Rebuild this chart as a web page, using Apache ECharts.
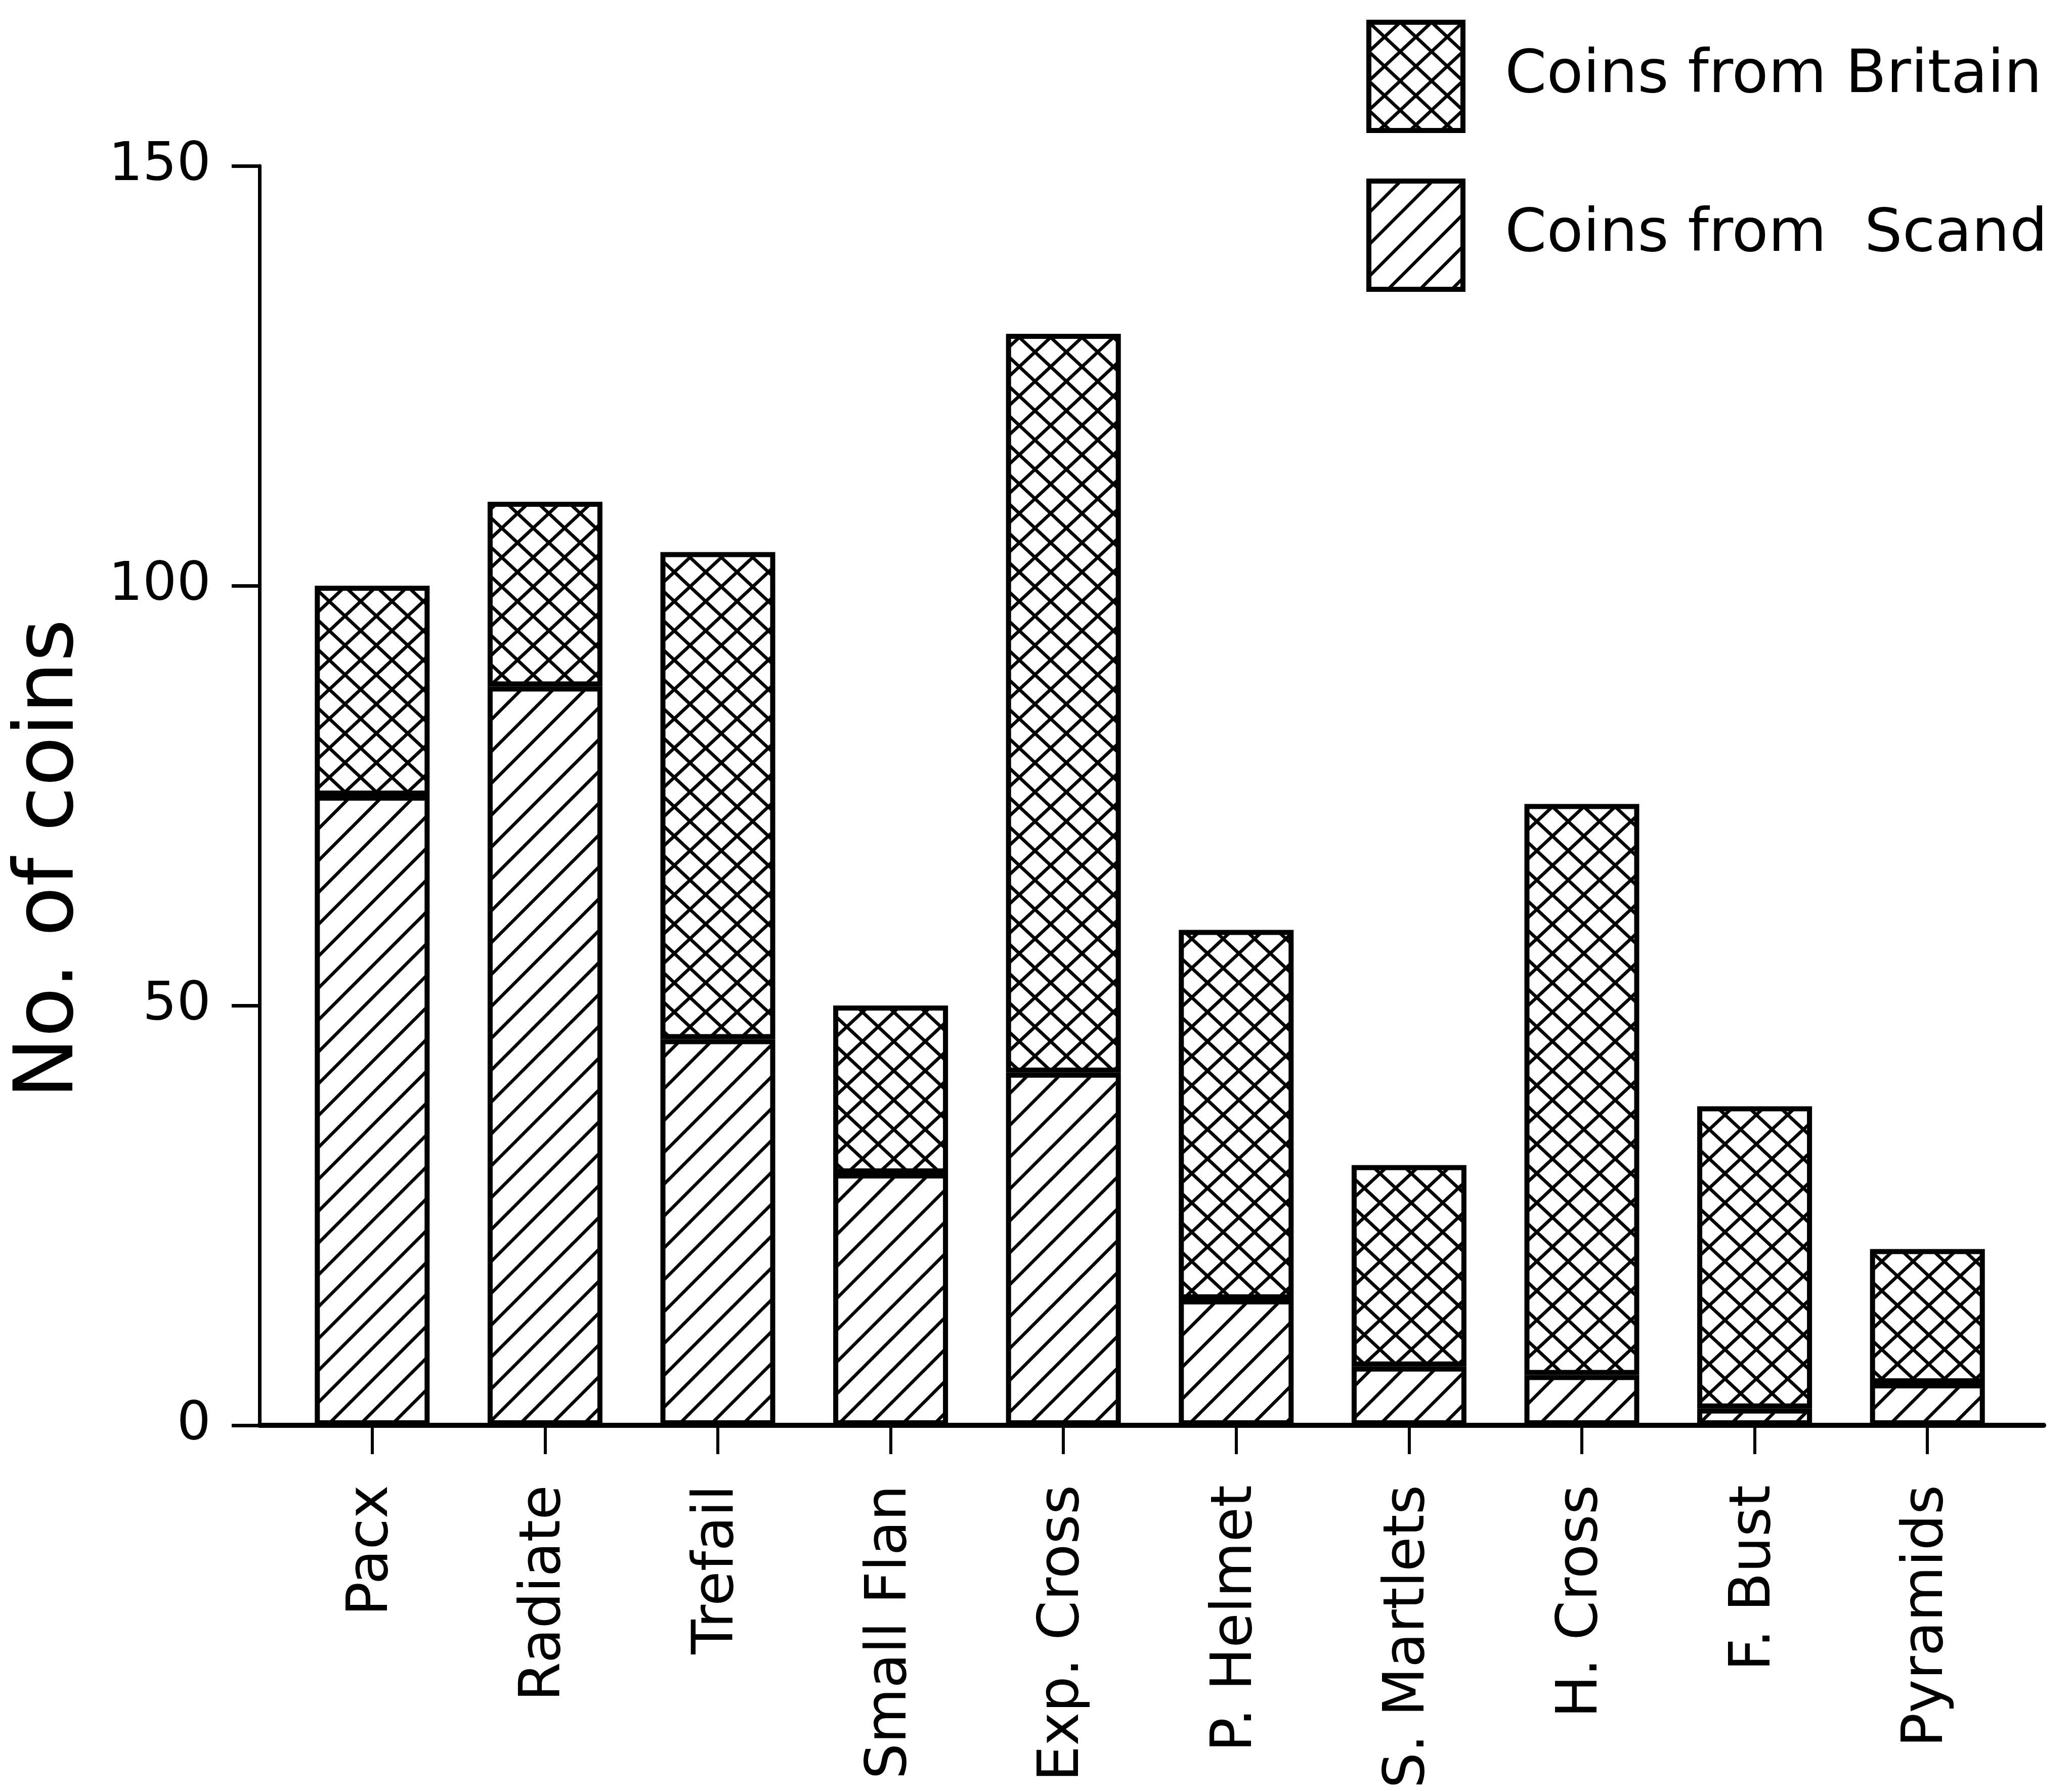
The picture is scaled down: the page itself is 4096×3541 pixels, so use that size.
<!DOCTYPE html>
<html><head><meta charset="utf-8">
<script src="https://cdn.jsdelivr.net/npm/echarts@6/dist/echarts.min.js"></script>
<style>html,body{margin:0;padding:0;background:#fff}#c{width:4096px;height:3541px}</style>
</head><body><div id="c"></div>
<script>
const categories = ['Pacx', 'Radiate', 'Trefail', 'Small Flan', 'Exp. Cross', 'P. Helmet', 'S. Martlets', 'H. Cross', 'F. Bust', 'Pyramids'];
const scandValues = [75, 88, 46, 30, 42, 15, 7, 6, 2, 5];
const britainValues = [25, 22, 58, 20, 88, 44, 24, 68, 36, 16];
const yTicks = [0, 50, 100, 150];
const legendNames = ['Coins from Britain', 'Coins from  Scand'];
const yName = 'No. of coins';

function crossHatch() {
  const W = 62, H = 58;
  const c = document.createElement('canvas'); c.width = W; c.height = H;
  const g = c.getContext('2d');
  g.fillStyle = '#fff'; g.fillRect(0, 0, W, H);
  g.strokeStyle = '#000'; g.lineWidth = 6.5;
  for (const dx of [-W, 0, W]) {
    g.beginPath(); g.moveTo(dx - W, -H); g.lineTo(dx + 2 * W, 2 * H); g.stroke();
    g.beginPath(); g.moveTo(dx + 2 * W, -H); g.lineTo(dx - W, 2 * H); g.stroke();
  }
  return c;
}
function diagHatch() {
  const P = 63;
  const c = document.createElement('canvas'); c.width = P; c.height = P;
  const g = c.getContext('2d');
  g.fillStyle = '#fff'; g.fillRect(0, 0, P, P);
  g.strokeStyle = '#000'; g.lineWidth = 6.5;
  for (const dx of [-P, 0, P]) {
    g.beginPath(); g.moveTo(dx - P, 2 * P); g.lineTo(dx + 2 * P, -P); g.stroke();
  }
  return c;
}

const font = 'DejaVu Sans';
const hatchB = { image: crossHatch(), repeat: 'repeat' };
const hatchS = { image: diagHatch(), repeat: 'repeat' };
const yMin = yTicks[0], yMax = yTicks[yTicks.length - 1], yStep = yTicks[1] - yTicks[0];

const chart = echarts.init(document.getElementById('c'), null, { renderer: 'canvas', width: 4096, height: 3541 });
chart.setOption({
  backgroundColor: '#fff',
  animation: false,
  textStyle: { fontFamily: font, color: '#000' },
  grid: [
    { left: 513, right: 56, top: 328, bottom: 723 },
    { left: 565, right: 115, top: 328, bottom: 723 }
  ],
  xAxis: [
    { gridIndex: 0, type: 'value', min: 0, max: 1,
      axisLine: { show: true, lineStyle: { color: '#000', width: 10 } },
      axisTick: { show: false }, axisLabel: { show: false }, splitLine: { show: false } },
    { gridIndex: 1, type: 'category', data: categories,
      axisLine: { show: false },
      axisTick: { show: true, alignWithLabel: true, length: 57, lineStyle: { color: '#000', width: 6 } },
      axisLabel: { rotate: 90, margin: 118, fontSize: 112, color: '#000', fontFamily: font, interval: 0 },
      splitLine: { show: false } }
  ],
  yAxis: [
    { gridIndex: 0, type: 'value', min: yMin, max: yMax, interval: yStep,
      axisLine: { show: true, lineStyle: { color: '#000', width: 7 } },
      axisTick: { show: true, length: 55, lineStyle: { color: '#000', width: 7 } },
      axisLabel: { margin: 96, fontSize: 106, color: '#000', fontFamily: font },
      splitLine: { show: false },
      name: yName, nameLocation: 'middle', nameGap: 331,
      nameTextStyle: { fontSize: 162, color: '#000', fontFamily: font, padding: [0, 250, 0, 0] } },
    { gridIndex: 1, type: 'value', min: yMin, max: yMax, interval: yStep, show: false }
  ],
  legend: {
    orient: 'vertical', left: 2696, top: 34, itemWidth: 186, itemHeight: 214, itemGap: 90,
    icon: 'rect', data: legendNames, selectedMode: false,
    itemStyle: { borderColor: '#000', borderWidth: 10 },
    textStyle: { fontSize: 118, color: '#000', fontFamily: font, padding: [0, 0, 0, 78] }
  },
  series: [
    { name: legendNames[1], type: 'bar', xAxisIndex: 1, yAxisIndex: 1, stack: 'total',
      data: scandValues, barWidth: 227,
      itemStyle: { color: hatchS, borderColor: '#000', borderWidth: 10 },
      emphasis: { disabled: true } },
    { name: legendNames[0], type: 'bar', xAxisIndex: 1, yAxisIndex: 1, stack: 'total',
      data: britainValues, barWidth: 227,
      itemStyle: { color: hatchB, borderColor: '#000', borderWidth: 10 },
      emphasis: { disabled: true } }
  ]
});
</script>
</body></html>
